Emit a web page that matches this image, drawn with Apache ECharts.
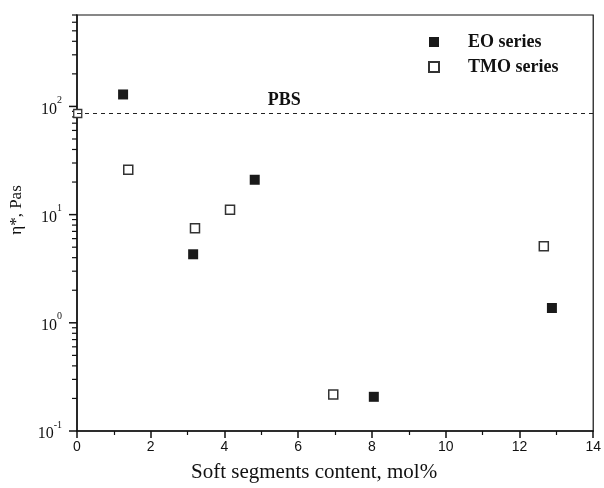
<!DOCTYPE html>
<html><head><meta charset="utf-8">
<script src="https://cdn.jsdelivr.net/npm/echarts@6/dist/echarts.min.js"></script>
<style>html,body{margin:0;padding:0;background:#fff}#c{width:604px;height:488px}</style>
</head><body><div id="c"></div>
<script>
// Data
const eoSeries = [[1.25, 129], [3.15, 4.3], [4.82, 21], [8.05, 0.207], [12.88, 1.37]];
const tmoSeries = [[1.39, 26], [3.2, 7.5], [4.15, 11.1], [6.95, 0.218], [12.66, 5.1]];
const pbsPoint = [[0.02, 86]];
const pbsLevel = 87;
const pbsLabelAt = [5.62, 87];
const xTicks = [0, 2, 4, 6, 8, 10, 12, 14];
const yMajor = [0.1, 1, 10, 100];
const yExp = ['-1', '0', '1', '2'];
const yMinor = [];
yMajor.forEach(b => { for (let m = 2; m <= 9; m++) { const v = b * m; if (v <= 700) yMinor.push(v); } });

const serif = 'Liberation Serif';
const chart = echarts.init(document.getElementById('c'));
const tickData = yMajor.map(v => [0, v, 8]).concat(yMinor.map(v => [0, v, 5]));
chart.setOption({
  animation: false,
  backgroundColor: '#fff',
  grid: {left: 76, right: 6, top: 15, bottom: 52, show: true, borderColor: '#111', borderWidth: 1.2},
  legend: {
    orient: 'vertical', left: 423, top: 28, itemGap: 7, itemWidth: 10, itemHeight: 10,
    data: ['EO series', 'TMO series'],
    textStyle: {fontFamily: serif, fontWeight: 'bold', fontSize: 18, color: '#111', padding: [0, 0, 0, 24]}
  },
  xAxis: {
    type: 'value', min: 0, max: 14, interval: 2,
    name: 'Soft segments content, mol%', nameLocation: 'middle', nameGap: 31,
    nameTextStyle: {fontFamily: serif, fontSize: 21, color: '#111', padding: [0, 42, 0, 0]},
    axisLine: {lineStyle: {color: '#111', width: 1.5}},
    axisTick: {length: 7, lineStyle: {color: '#111', width: 1.5}},
    minorTick: {show: true, splitNumber: 2, length: 4, lineStyle: {color: '#111', width: 1.2}},
    splitLine: {show: false},
    axisLabel: {fontFamily: 'Liberation Sans', fontSize: 14, color: '#111', margin: 9,
      formatter: v => xTicks.includes(v) ? String(v) : ''}
  },
  yAxis: {
    type: 'log', logBase: 10, min: 0.1, max: 700,
    name: 'η*, Pas', nameLocation: 'middle', nameGap: 52,
    nameTextStyle: {fontFamily: serif, fontSize: 17, color: '#111', padding: [0, 0, 0, 26]},
    axisLine: {lineStyle: {color: '#111', width: 1.5}},
    axisTick: {show: false},
    splitLine: {show: false},
    axisLabel: {
      margin: 15, color: '#111',
      formatter: v => {
        const i = yMajor.findIndex(m => Math.abs(m - v) / m < 1e-6);
        if (i < 0) return '';
        return '{b|10}{s|' + yExp[i] + '}';
      },
      rich: {
        b: {fontFamily: serif, fontSize: 16, color: '#111', lineHeight: 22, verticalAlign: 'bottom'},
        s: {fontFamily: serif, fontSize: 10, color: '#111', lineHeight: 12, verticalAlign: 'top'}
      }
    }
  },
  series: [
    {
      name: 'EO series', type: 'scatter', symbol: 'rect', symbolSize: 10,
      itemStyle: {color: '#1a1a1a', opacity: 1},
      data: eoSeries, z: 5
    },
    {
      name: 'TMO series', type: 'scatter', symbol: 'rect', symbolSize: 9,
      itemStyle: {color: '#fff', borderColor: '#333', borderWidth: 1.5, opacity: 1},
      data: tmoSeries, z: 5
    },
    {
      name: 'PBS', type: 'scatter', symbol: 'rect', symbolSize: 8, clip: false,
      itemStyle: {color: '#fff', borderColor: '#333', borderWidth: 1.3, opacity: 1},
      data: pbsPoint, z: 4,
      markLine: {
        silent: true, symbol: 'none',
        lineStyle: {color: '#222', type: [4, 4], width: 1.2},
        label: {show: false},
        data: [{yAxis: pbsLevel}]
      }
    },
    {
      name: 'PBSLabel', type: 'scatter', symbolSize: 0, data: [pbsLabelAt],
      itemStyle: {opacity: 1},
      label: {show: true, position: 'top', distance: 4, formatter: 'PBS',
        fontFamily: serif, fontWeight: 'bold', fontSize: 18, color: '#111', opacity: 1}
    },
    {
      name: 'yTicks', type: 'custom', silent: true, clip: false,
      data: tickData,
      renderItem: (params, api) => {
        const p = api.coord([api.value(0), api.value(1)]);
        const len = api.value(2);
        return {type: 'line', shape: {x1: p[0] - len, y1: p[1], x2: p[0], y2: p[1]},
          style: {stroke: '#111', lineWidth: len > 6 ? 1.5 : 1.2}};
      }
    }
  ]
});
</script></body></html>
